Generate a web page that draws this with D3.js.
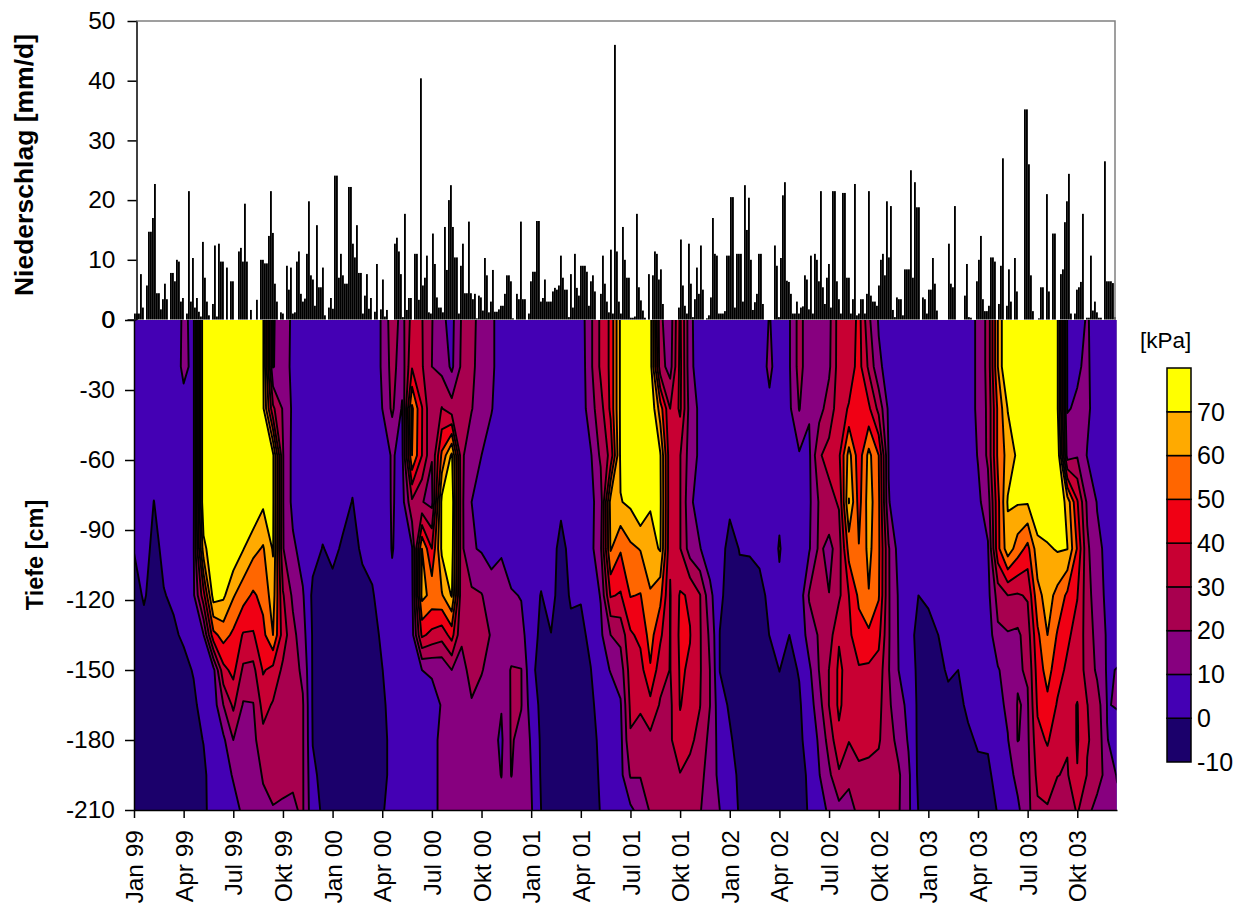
<!DOCTYPE html>
<html>
<head>
<meta charset="utf-8">
<style>
 body { margin: 0; background: #fff; }
 text { font-family: "Liberation Sans", Arial, sans-serif; fill: #000; }
 .axis path, .axis line { stroke: #000; stroke-width: 1.5; }
 .axis text { font-size: 24.5px; }
</style>
</head>
<body>
<svg id="chart" width="1244" height="908"></svg>
<script src="https://cdnjs.cloudflare.com/ajax/libs/d3/7.8.5/d3.min.js"></script>
<script>

// DATA -----------------------------------------------------------------

// x axis labels, one per 5 soil samples
var quarterLabels = ["Jan 99","Apr 99","Jul 99","Okt 99","Jan 00","Apr 00","Jul 00","Okt 00",
                     "Jan 01","Apr 01","Jul 01","Okt 01","Jan 02","Apr 02","Jul 02","Okt 02",
                     "Jan 03","Apr 03","Jul 03","Okt 03"];
var rainTicks = [0, 10, 20, 30, 40, 50];
var depthTicks = [0, -30, -60, -90, -120, -150, -180, -210];
var levels = [0, 10, 20, 30, 40, 50, 60, 70];
var legendStops = [-10, 0, 10, 20, 30, 40, 50, 60, 70, 80];
var bandColors = ["#1b006b", "#4400b4", "#87007f", "#a8004f", "#c80033", "#f00014", "#ff6600", "#ffaa00", "#ffff00"];

// depth of the rows in soilTension [cm]
var depths = [0, -20, -38, -58, -78, -98, -118, -135, -150, -165, -180, -195, -210];

// soil water tension [kPa], one line per sampling date, values top to bottom
var soilTension = [
 [5,5,5,5,4,0.3,-3,-4,-4,-4,-4,-4,-4],
 [5,5,5,5,4,3,0.8,-2.5,-4,-4,-4,-4,-4],
 [5,5,5,3,-0.1,-2,-3,-4,-4,-4,-4,-4,-4],
 [5,5,5,5,3,1.5,-0.3,-3,-4,-4,-4,-4,-4],
 [5,5,5,5,4,3,1,-1,-3,-4,-4,-4,-4],
 [11.5,12,7,5,4,4,3,1,-2,-3,-4,-4,-4],
 [8,8,8,8,8,9,8.5,5,0.5,-1.5,-3,-4,-4],
 [80,80,80,80,80,66,36,9.5,5,3,0.3,-2,-2.5],
 [80,80,80,80,80,80,75,47,7,5,5,5,5],
 [80,80,80,80,80,80,72,54,37,20,8,5,4],
 [80,80,80,80,80,78,61,48,43,32,20,11,6],
 [80,80,80,80,80,70.5,54,39,28,19,16,14,12],
 [80,80,80,80,80,63,48.5,39,27,19.5,17,14,13],
 [72,72,72,80,72,59,53,47,41,33.5,27,21,17],
 [9,9.5,32,72,72,71,65,60,37,29,26,23,19.5],
 [15,14,19,20.5,20.5,20.5,31,35,28,26,24,22,19],
 [8,8,8,7,7,12,18,23,24,23,22,21,19],
 [6,6,6,5,5,6,11,14,18,21,21,21,21],
 [4,4,4,4,4,3,-2,-1,-1,-1,-0.3,1.5,3],
 [4,4,4,4,3,-0.3,-3,-4,-5,-5,-4,-2,-1],
 [4,4,4,4,4,1.5,-2,-4,-5,-5,-5,-4,-3],
 [4,4,4,4,2,-0.8,-3,-4,-5,-5,-5,-5,-4],
 [4,4,4,2,-0.2,-2,-4,-5,-5,-5,-5,-5,-4],
 [4,4,4,4,3,1,-2,-4,-5,-5,-5,-4,-4],
 [5,5,5,5,4,2,-0.6,-3,-4,-4,-4,-4,-3],
 [11,11,10,5,4,4,3,1.5,-0.2,-1.5,-2,-2,-1],
 [26,24,22,11,11,10.5,8,5,4,3,2,2,4],
 [16,14,9,7,6,6,7,6,5,5,5,5,5],
 [34,39,62,60,28,9,7,6,5,5,5,5,5],
 [30.5,31,40.5,40,20.5,60,63,42,10,6,5,5,5],
 [20.5,20,20,20.5,17,40,57,37,11,7,6,6,6],
 [12,17,30.5,52,73,72,59,34,12,10.5,13,13,13],
 [7,8,24,72,78,76,71,44,20,14,14,14,14],
 [21,22,25,22,22,22,22,21,18,14,14,14,14],
 [23,22,20.5,13,10,11,22,26,22,19.5,15,14,14],
 [16,16,14,10,6,9,20.5,25,20.5,17,14,14,14],
 [12,12,10.5,6,5,6,15,19,17,15,13,14,15],
 [5,5,5,5,4,9,14,17,16,10.5,8.5,9.7,14],
 [4,4,4,4,4,4,11,16,20.5,21,21,20.3,14],
 [4,4,4,4,4,4,9.5,13,20.3,20.5,17,14,13],
 [4,4,4,4,4,4,3,4,2,5,9,10,11],
 [4,4,4,4,4,3,-0.3,-2,-3,-2,-1.5,-1,0],
 [4,4,4,4,4,4,3,-0.2,-3,-4,-4,-4,-3],
 [4,4,4,4,2,-3,-4,-5,-5,-5,-5,-5,-4],
 [4,4,4,4,4,3,1,-2,-4,-5,-5,-5,-4],
 [5,4,4,4,4,4,0.6,-2,-3,-4,-5,-5,-4],
 [18,18,16,9,8,7,5,2,-0.2,-2,-3,-3,-2],
 [32,32,26,22,14,18,10.5,8,6,4,2,1,0.2],
 [42,42,42,33,64,61,41,20,10.5,5,5,5,5],
 [72,72,72,72,69.5,51,39,23,14.5,9,7,7,5],
 [80,80,80,80,72,58,50.5,38.5,35,32,29,21,8],
 [80,80,80,80,80,60.5,49.5,42.5,36,31,27,20.5,14],
 [75,75,80,80,71,66,59,54,49,37,27.5,24,21],
 [22,24,55,71,72,71,53,42,34,29,27,26,24],
 [14,16,30,32,32,31,29.5,29.7,29.7,28,28.5,27,25],
 [42,43,42,30.5,30.5,30.5,41,42,41,40.5,37,29.5,26],
 [12,12,15,15,12,15,39,40.3,39,36,32,27,24],
 [5,6,8,8,5,10.5,30.5,31,31,30.3,27,24,21],
 [4,4,4,4,4,4,13,18,20,20.2,17,14,12],
 [4,4,4,4,4,3,1.5,-0.2,-0.2,3,6,8,10],
 [4,4,4,4,1.5,-2.5,-3,-4,-4,-1,1,3,5],
 [4,4,4,4,3,0.3,-2,-3,-4,-4,-3,-1.5,-1],
 [4,4,4,4,3,0.4,-2,-3,-4,-4,-4,-4,-3],
 [5,5,4,4,4,1.5,-2,-3,-4,-4,-4,-4,-4],
 [10.5,12,8,4,4,4,1.5,0.1,-3,-4,-4,-4,-4],
 [5,5,5,5,8,10.8,8,3,0.1,-2,-3,-4,-4],
 [9,9,8,5,4,4,1,0,-2,-3,-3,-3,-3],
 [24,24,20.5,9,5,4,3,2,0.5,-1,-1.5,-2,-2],
 [13,13,11,8,8,9,21,15,8,5,3,1,0.5],
 [14,14,16,29,21,22,22,21,20.3,16,11.5,9.5,5],
 [17,18,25,33,27,17,20.2,25,30.2,30.2,24,18,12],
 [35,35,35,38,31,25,28,39,42,42,37.5,28.5,17],
 [30,34,41,64,70.5,54,40,38,36,34,30.5,22,17],
 [44,44,42,44,46,50.5,52,46,39,37,33,28,22],
 [22,28,42,63,65,63,59.5,48,38,35,32,28,23],
 [9,12,27,50,52,52,51,43,36,33,31,27,22],
 [4,6,8,9.5,10.5,21,21,21,20.5,22,24,24,22],
 [4,4,4,4,5,6,9,9.5,10,13,17,21.5,21],
 [4,4,4,4,4,4,4,4,5,8,9,12,12],
 [4,4,4,4,4,4,0,-3,-2,-2,-2,-2,-0.3],
 [4,4,4,4,4,4,1,-2,-3,-3,-3,-3,-3],
 [4,4,4,4,4,4,3,0,-2,-3,-4,-4,-4],
 [4,4,4,4,4,4,4,3,1,-2,-3,-4,-4],
 [4,4,4,4,4,4,4,3,0,-2,-3,-4,-4],
 [5,5,5,5,4,4,4,4,3,1.5,-1.5,-3,-3],
 [12,12,12,10.5,8,5,4,4,4,3,1,-2,-3],
 [23,23,22,22,15,9,7,4,4,3,1,-1.5,-2],
 [60,60,52,52,47,47,24,18,9,7,5,3,0.3],
 [85,85,70.5,64,71,66,30,19,15,12,9.5,6,5],
 [85,85,85,72,71,55,29,18,19,20.5,20.3,13,8],
 [85,85,85,85,71,47,31,25,21,19,18,17,17],
 [85,85,85,85,80,66,57,48,44.5,41.5,37,33,28],
 [85,85,85,85,80,68.5,64,60,54,47.5,41,35,29],
 [72,72,72,80,80,71,57,49,44,39,34.5,30.3,24],
 [9,9.5,9.5,15,66,70.3,48,42,38,36,31,29,25],
 [6,9,11,19,41,49,40.5,36,35,40.5,41,39.5,31],
 [11,11.5,12,9.5,18,22,24,26,27,30.2,30.5,29.5,24],
 [5,5,5,6,9.5,12,14,16,18,25,28,26,15],
 [4,4,4,4,5,8,8,9,9,9.8,10.2,15,14],
 [4,4,4,4,4,5,5,6,10.3,10.3,8,9.5,12]
];

var rain = [
 1,1,1,7.6,2,0,5.7,14.7,14.7,17,22.7,4.4,4.4,1.7,3.4,6,3.4,0,7.8,7.8,6.4,10,9.7,3,3.6,
 0,1,21.5,3,10.3,2,3.6,1.3,0.5,13,7,3,0.7,0,2.6,12.4,0.5,12.7,9.7,9.7,0,8.7,0,6.4,6.4,
 0,0,11.4,12,9.7,19.4,9.7,0,1.6,0,0,3.3,0,10,10,9.4,9.4,14,21.5,14.5,6,3,0,1.2,1,
 0,9,5,8.7,1,1.2,9.7,11.4,4.3,3,3.5,11,19.8,7.4,6.7,2.3,15.8,5.4,5.4,8.7,0.7,0,2,3.6,1.8,
 24.1,24.1,7,11,7.4,6,6,22.2,22.2,12.7,10.4,15.8,7.8,7.8,1,4,7.6,1.8,3.6,0,1.3,9.3,0,1.7,6.7,
 0.5,1.6,0,0,0,12.7,13.7,11.4,7.6,0.4,17.7,1.6,3.6,3.6,0,11,11,3.3,40.4,5.7,7,10.7,1.2,1,14.4,
 9.3,3.7,2,2,1.2,15.5,8.3,20,22.5,15.5,10.4,10.4,1,9,12.7,4.4,4.4,16.4,4.4,3.4,4.3,0.2,4,3.7,1.5,
 10.3,7.4,1.2,3,8.3,1.3,1.3,1.7,2.3,2.3,4.3,7.4,7.4,6.4,0.2,0,4.3,3.4,16.4,3.4,3.4,0,1,6.4,8,
 8,16.5,16.5,3,3.6,6.7,3,3,3,4.7,5.3,5,5.7,10.7,7,5,5,0.4,7.6,2,11,5.3,4,9,9,
 9,8,2.3,6.4,7.4,4.7,0,0,4.3,10.7,6,3,1.2,11.7,1,46,11.4,3,1,15.5,10,7,7,0.3,0.3,
 0.5,17.7,5.4,3.2,1.5,0.3,0,7.6,0,7.4,11.4,11,6.7,8.4,2.6,0,0,0,0,0,0,0,2,13.4,5.7,
 2.3,1,12.7,6,0.4,3.4,8.7,4.3,12.4,5,0,0.2,0.7,3.7,17,11,10.7,1,1,1,1.4,10.7,10.7,20.5,20.5,
 2,11,11,11,3,22.5,15,20.4,10,1.6,2.9,4.3,11,11,2.6,0,0,0,0,0,12.4,9,0.4,10.3,20.8,
 23,6.5,6.3,4.3,1,1,3,1,2,2.2,7.4,6.7,1.7,10.7,1,11,10,6.4,21.5,5.4,2.6,7,9.3,2,21.5,
 21.5,6.4,3.4,1,21.2,21.2,7,7,1,3.4,22.7,0.7,1,3.4,3.4,1,4.3,21.5,4,3,3,2.3,5.7,10,11,
 7.4,19.8,10.4,19,1.6,0.4,3.7,3.4,3.4,0.7,8.4,8.4,8.4,25,7,23,18.8,18.8,0,3.7,3.4,1,5,5,10.3,
 6,1.5,0,0,0,0,0,12.7,6,5.4,19,0,0,0,0,4,9.3,0.4,0.3,0,0,6.4,10,14,3.4,
 1.4,1.4,2.3,10.4,10.4,9.7,0,2.6,9,27,0,2.3,8.4,3,0,10.3,4.7,0,0,0,35.2,35.2,26,7.4,1.4,
 0,0,0.2,5.4,5.4,0,21,4.7,0,14.4,14.4,0,0,7.6,8.4,16.3,19.8,24.4,1,0,1,5,5.4,6.3,17.7,
 0,0.3,0.3,10.7,1.5,3,1.2,0.3,0.3,0,26.5,6.4,6.4,6.4,6.1,0.4
];


// SCALES ---------------------------------------------------------------

var svg = d3.select("#chart");
var left = 134, right = 1117;
var bottom = 810;

var xSample = d3.scaleLinear().domain([0, soilTension.length - 1]).range([left, right]);
var xRain = d3.scaleLinear().domain([0, rain.length]).range([left, left + 2 * rain.length]);
var yRain = d3.scaleLinear().domain([0, 50]).range([319.5, 21]);
var yDepth = d3.scaleLinear().domain([0, -210]).range([320, bottom]);
var yLegend = d3.scaleLinear().domain([-10, 80]).range([762, 368]);


// CONTOUR PLOT ---------------------------------------------------------

var numCols = soilTension.length, numRows = depths.length;

// d3.contours wants one flat array, row after row
var grid = [];
for(var r=0; r<numRows; r++)
	for(var c=0; c<numCols; c++)
		grid.push(soilTension[c][r]);

var bands = d3.contours().size([numCols, numRows]).smooth(true).thresholds(levels)(grid);

// grid coordinates to pixels, the padded border is pushed out of the clip
function colToX(g)
{
	var i = g - 0.5;
	if(i<0) return left - 20;
	if(i>numCols-1) return right + 20;
	return xSample(i);
}

function rowToY(g)
{
	var i = g - 0.5;
	if(i<0) return yDepth(0) - 20;
	if(i>numRows-1) return yDepth(-210) + 20;
	var low = Math.floor(i), high = Math.min(low + 1, numRows - 1);
	return yDepth(depths[low] + (depths[high] - depths[low]) * (i - low));
}

function bandPath(band)
{
	var d = "";
	band.coordinates.forEach(function(polygon) {
		polygon.forEach(function(ring) {
			d += "M" + ring.map(function(p) { return colToX(p[0]).toFixed(2) + "," + rowToY(p[1]).toFixed(2); }).join("L") + "Z";
		});
	});
	return d;
}

svg.append("defs").append("clipPath").attr("id", "plotClip")
	.append("rect")
	.attr("x", left).attr("y", yDepth(0))
	.attr("width", 1116.5 - left).attr("height", bottom - yDepth(0));

var plot = svg.append("g").attr("clip-path", "url(#plotClip)");

plot.append("rect")
	.attr("x", left).attr("y", yDepth(0))
	.attr("width", right - left).attr("height", bottom - yDepth(0))
	.attr("fill", bandColors[0]);

plot.selectAll("path")
	.data(bands)
	.enter()
	.append("path")
	.attr("d", bandPath)
	.attr("fill", function(d, i) { return bandColors[i + 1]; })
	.attr("fill-rule", "evenodd")
	.attr("stroke", "#000")
	.attr("stroke-width", 1.9)
	.attr("stroke-linejoin", "round");


// RAIN BARS ------------------------------------------------------------

svg.selectAll(".bar")
	.data(rain)
	.enter()
	.append("rect")
	.attr("class", "bar")
	.attr("x", function(d, i) { return xRain(i); })
	.attr("width", 1.85)
	.attr("y", function(d) { return yRain(d); })
	.attr("height", function(d) { return yRain(0) - yRain(d); })
	.attr("fill", "#000");

// grey frame on top and right of the rain panel
svg.append("path")
	.attr("d", "M136," + yRain(50) + "H1115V320")
	.attr("fill", "none")
	.attr("stroke", "#808080")
	.attr("stroke-width", 1.5);


// AXES -----------------------------------------------------------------

var plainNumber = function(d) { return String(d); };

var rainAxis = d3.axisLeft(yRain).tickValues(rainTicks).tickFormat(plainNumber)
	.tickSize(9).tickSizeOuter(0).tickPadding(12);
svg.append("g").attr("class", "axis")
	.attr("transform", "translate(136.5,0)")
	.call(rainAxis);

var depthAxis = d3.axisLeft(yDepth).tickValues(depthTicks).tickFormat(plainNumber)
	.tickSize(9).tickSizeOuter(0).tickPadding(10);
svg.append("g").attr("class", "axis")
	.attr("transform", "translate(134,0)")
	.call(depthAxis);

var sampleAxis = d3.axisBottom(xSample)
	.tickValues(quarterLabels.map(function(d, i) { return i * 5; }))
	.tickFormat(function(d) { return quarterLabels[d / 5]; })
	.tickSize(8).tickSizeOuter(0);

var xGroup = svg.append("g").attr("class", "axis")
	.attr("transform", "translate(0," + bottom + ")")
	.call(sampleAxis);

xGroup.selectAll("text")
	.attr("transform", "rotate(-90)")
	.attr("text-anchor", "end")
	.attr("x", -20)
	.attr("y", 0)
	.attr("dy", "0.35em");


// AXIS TITLES ----------------------------------------------------------

svg.append("text")
	.attr("transform", "translate(33,165) rotate(-90)")
	.attr("text-anchor", "middle")
	.attr("font-size", 26.5)
	.attr("font-weight", "bold")
	.text("Niederschlag [mm/d]");

svg.append("text")
	.attr("transform", "translate(43,555) rotate(-90)")
	.attr("text-anchor", "middle")
	.attr("font-size", 23.5)
	.attr("font-weight", "bold")
	.text("Tiefe [cm]");


// LEGEND ---------------------------------------------------------------

svg.selectAll(".swatch")
	.data(bandColors)
	.enter()
	.append("rect")
	.attr("class", "swatch")
	.attr("x", 1167)
	.attr("width", 24)
	.attr("y", function(d, i) { return yLegend(legendStops[i + 1]); })
	.attr("height", function(d, i) { return yLegend(legendStops[i]) - yLegend(legendStops[i + 1]); })
	.attr("fill", function(d) { return d; })
	.attr("stroke", "#000")
	.attr("stroke-width", 1.5);

svg.selectAll(".legendLabel")
	.data(legendStops.slice(0, -1))
	.enter()
	.append("text")
	.attr("class", "legendLabel")
	.attr("x", 1197)
	.attr("y", function(d) { return yLegend(d); })
	.attr("dy", "0.35em")
	.attr("font-size", 25)
	.text(function(d) { return d; });

svg.append("text")
	.attr("x", 1140)
	.attr("y", 348)
	.attr("font-size", 22.5)
	.text("[kPa]");

</script>
</body>
</html>
